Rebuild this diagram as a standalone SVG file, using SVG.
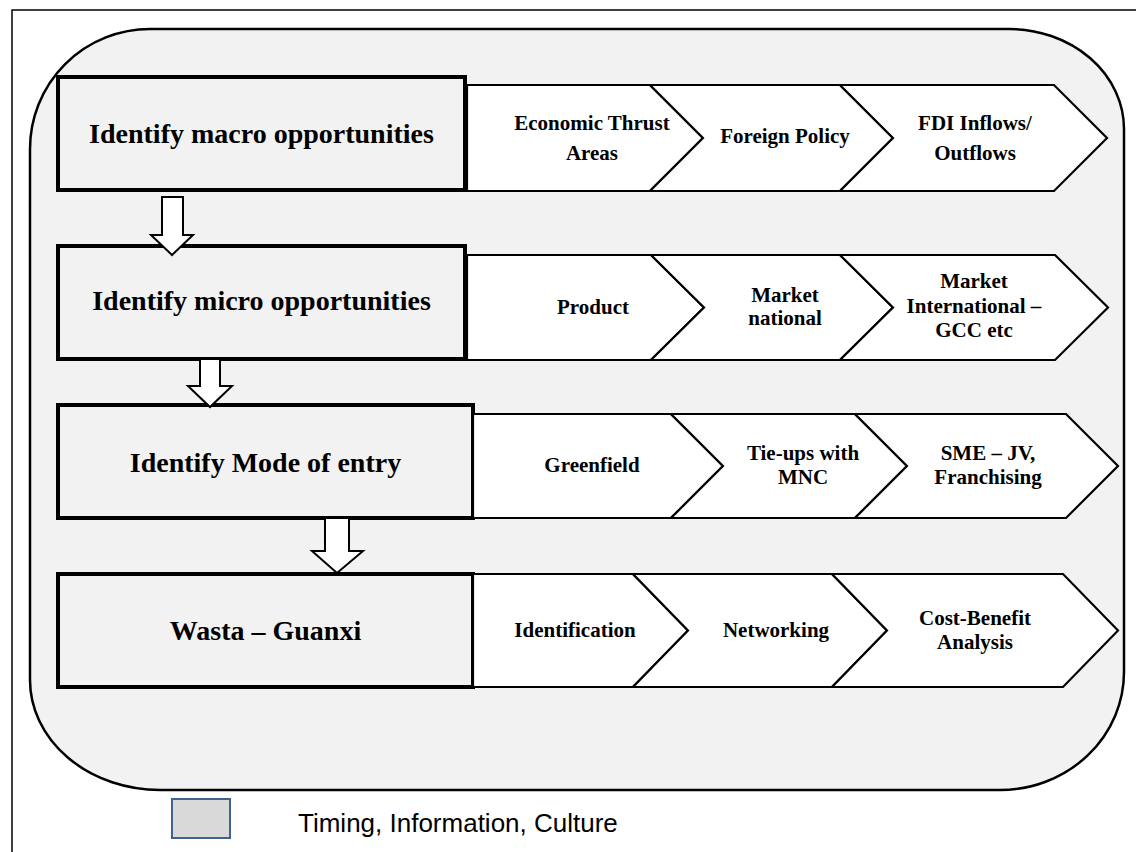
<svg xmlns="http://www.w3.org/2000/svg" width="1136" height="852" viewBox="0 0 1136 852">
<style>
.frame{fill:none;stroke:#000;stroke-width:1.5}
.container{fill:#f2f2f2;stroke:#000;stroke-width:2.5}
.box{fill:#f2f2f2;stroke:#000;stroke-width:4}
.chev{fill:#fff;stroke:#000;stroke-width:2.2;stroke-linejoin:miter}
.arrow{fill:#fff;stroke:#000;stroke-width:2}
.bt{font-family:"Liberation Serif","Times New Roman",serif;font-weight:bold;font-size:28px;text-anchor:middle;fill:#000}
.ct{font-family:"Liberation Serif","Times New Roman",serif;font-weight:bold;font-size:21px;text-anchor:middle;fill:#000}
.lt{font-family:"Liberation Sans",Arial,sans-serif;font-size:26px;fill:#000}
</style>
<rect x="0" y="0" width="1136" height="852" fill="#fff"/>
<path class="frame" d="M12,852 V10 H1136"/>
<path id="container" class="container" d="M150,29 H1009 A115,100 0 0 1 1124,129 V672 A124,118 0 0 1 1000,790 H160 A130,110 0 0 1 30,680 V149 A120,120 0 0 1 150,29 Z"/>

<g id="n1">
<rect class="box" x="58" y="77" width="407" height="113"/>
<text class="bt" x="261.5" y="143">Identify macro opportunities</text>
</g>
<g id="n2">
<rect class="box" x="58" y="246" width="407" height="113"/>
<text class="bt" x="261.5" y="310">Identify micro opportunities</text>
</g>
<g id="n3">
<rect class="box" x="58" y="405" width="415" height="113"/>
<text class="bt" x="265.5" y="472">Identify Mode of entry</text>
</g>
<g id="n4">
<rect class="box" x="58" y="574" width="415" height="113"/>
<text class="bt" x="265.5" y="640">Wasta – Guanxi</text>
</g>

<g id="r1c1">
<polygon class="chev" points="467,85 650,85 703,138 650,191 467,191"/>
<text class="ct" x="592" y="130">Economic Thrust</text>
<text class="ct" x="592" y="160">Areas</text>
</g>
<g id="r1c2">
<polygon class="chev" points="650,85 840,85 893,138 840,191 650,191 703,138"/>
<text class="ct" x="785" y="143">Foreign Policy</text>
</g>
<g id="r1c3">
<polygon class="chev" points="840,85 1054,85 1107,138 1054,191 840,191 893,138"/>
<text class="ct" x="975" y="130">FDI Inflows/</text>
<text class="ct" x="975" y="160">Outflows</text>
</g>

<g id="r2c1">
<polygon class="chev" points="467,255 651,255 704,307.5 651,360 467,360"/>
<text class="ct" x="593" y="314">Product</text>
</g>
<g id="r2c2">
<polygon class="chev" points="651,255 840,255 893,307.5 840,360 651,360 704,307.5"/>
<text class="ct" x="785" y="302">Market</text>
<text class="ct" x="785" y="325">national</text>
</g>
<g id="r2c3">
<polygon class="chev" points="840,255 1055,255 1108,307.5 1055,360 840,360 893,307.5"/>
<text class="ct" x="974" y="288">Market</text>
<text class="ct" x="974" y="313">International –</text>
<text class="ct" x="974" y="337">GCC etc</text>
</g>

<g id="r3c1">
<polygon class="chev" points="473,414 671,414 723,466 671,518 473,518"/>
<text class="ct" x="592" y="472">Greenfield</text>
</g>
<g id="r3c2">
<polygon class="chev" points="671,414 855,414 907,466 855,518 671,518 723,466"/>
<text class="ct" x="803" y="460">Tie-ups with</text>
<text class="ct" x="803" y="484">MNC</text>
</g>
<g id="r3c3">
<polygon class="chev" points="855,414 1066,414 1118,466 1066,518 855,518 907,466"/>
<text class="ct" x="988" y="460">SME – JV,</text>
<text class="ct" x="988" y="484">Franchising</text>
</g>

<g id="r4c1">
<polygon class="chev" points="473,574 633,574 688,630.5 633,687 473,687"/>
<text class="ct" x="575" y="637">Identification</text>
</g>
<g id="r4c2">
<polygon class="chev" points="633,574 832,574 887,630.5 832,687 633,687 688,630.5"/>
<text class="ct" x="776" y="637">Networking</text>
</g>
<g id="r4c3">
<polygon class="chev" points="832,574 1063,574 1118,630.5 1063,687 832,687 887,630.5"/>
<text class="ct" x="975" y="625">Cost-Benefit</text>
<text class="ct" x="975" y="649">Analysis</text>
</g>

<g id="connectors">
<polygon class="arrow" points="162,197 183,197 183,235 193,235 172,255 151,235 162,235"/>
<polygon class="arrow" points="200,359 220,359 220,386 232,386 210,407 188,386 200,386"/>
<polygon class="arrow" points="325,518 349,518 349,551 363,551 337,573 312,551 325,551"/>
</g>

<g id="legend">
<rect x="172" y="799" width="58" height="39" fill="#d9d9d9" stroke="#41628f" stroke-width="2"/>
<text class="lt" x="298" y="832">Timing, Information, Culture</text>
</g>
</svg>
